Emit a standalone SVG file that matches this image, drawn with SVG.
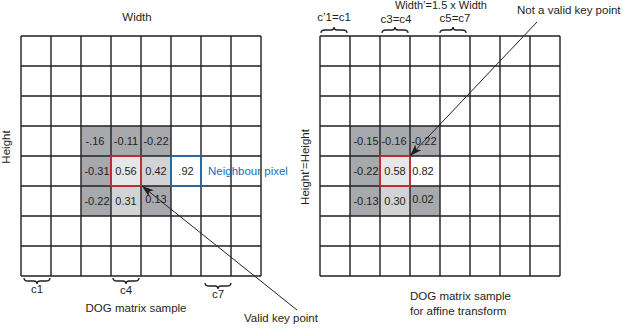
<svg xmlns="http://www.w3.org/2000/svg" width="626" height="328" viewBox="0 0 626 328">
<defs>
<style>
text{font-family:"Liberation Sans",Arial,sans-serif;fill:#231f20;font-size:11.5px}
.n{font-size:11px;text-anchor:middle}
.c{text-anchor:middle}
.grid{stroke:#231f20;stroke-width:1.4;fill:none}
.dk{fill:#a7a9ac}
.lt{fill:#d1d3d4}
.vl{fill:#e6e7e8}
.red{fill:none;stroke:#d7262b;stroke-width:1.6}
.blue{fill:none;stroke:#1c6cb5;stroke-width:1.6}
.brace{fill:none;stroke:#231f20;stroke-width:1.3}
.arr{stroke:#231f20;stroke-width:1;fill:none;marker-end:url(#ah)}
</style>
<marker id="ah" viewBox="0 0 12 8" refX="12" refY="4" markerWidth="12" markerHeight="8" markerUnits="userSpaceOnUse" orient="auto">
<path d="M0,0 L12,4 L0,8 L3,4 Z" fill="#231f20"/>
</marker>
</defs>
<rect width="626" height="328" fill="#ffffff"/>

<g id="left-matrix">
<rect class="dk" x="81" y="126" width="90" height="30"/>
<rect class="dk" x="81" y="156" width="30" height="60"/>
<rect class="vl" x="111" y="156" width="30" height="30"/>
<rect class="lt" x="141" y="156" width="30" height="30"/>
<rect class="lt" x="111" y="186" width="30" height="30"/>
<rect class="dk" x="141" y="186" width="30" height="30"/>
<path class="grid" d="M21,36V276M51,36V276M81,36V276M111,36V276M141,36V276M171,36V276M201,36V276M231,36V276M261,36V276M21,36H261M21,66H261M21,96H261M21,126H261M21,156H261M21,186H261M21,216H261M21,246H261M21,276H261"/>
<rect class="red" x="111" y="156" width="30" height="30"/>
<rect class="blue" x="171" y="156" width="30" height="30"/>
<text class="n" x="95" y="145">-.16</text>
<text class="n" x="126" y="145">-0.11</text>
<text class="n" x="156" y="145">-0.22</text>
<text class="n" x="97" y="175">-0.31</text>
<text class="n" x="126" y="175">0.56</text>
<text class="n" x="156" y="175">0.42</text>
<text class="n" x="186" y="175">.92</text>
<text class="n" x="97" y="205">-0.22</text>
<text class="n" x="126" y="205">0.31</text>
<text class="n" x="156" y="203">0.13</text>
</g>

<g id="left-labels">
<text class="c" x="137" y="21">Width</text>
<text class="c" transform="translate(10,147) rotate(-90)">Height</text>
<text x="208" y="175" style="fill:#1c6cb5">Neighbour pixel</text>
<path class="brace" d="M24,278 Q24,281 28,281 L34,281 Q37,281 37,284 Q37,281 40,281 L46,281 Q50,281 50,278"/>
<text class="c" x="37" y="293">c1</text>
<path class="brace" d="M113,278 Q113,281 117,281 L123,281 Q126,281 126,284 Q126,281 129,281 L135,281 Q139,281 139,278"/>
<text class="c" x="126" y="294">c4</text>
<path class="brace" d="M205,283 Q205,286 209,286 L215,286 Q218,286 218,289 Q218,286 221,286 L227,286 Q231,286 231,283"/>
<text class="c" x="218" y="298">c7</text>
<text class="c" x="136" y="312">DOG matrix sample</text>
</g>

<g id="right-matrix">
<rect class="dk" x="350" y="126" width="90" height="30"/>
<rect class="dk" x="350" y="156" width="30" height="60"/>
<rect class="vl" x="380" y="156" width="30" height="30"/>
<rect class="lt" x="380" y="186" width="30" height="30"/>
<rect class="dk" x="410" y="186" width="30" height="30"/>
<path class="grid" d="M320,36V276M350,36V276M380,36V276M410,36V276M440,36V276M470,36V276M500,36V276M530,36V276M560,36V276M320,36H560M320,66H560M320,96H560M320,126H560M320,156H560M320,186H560M320,216H560M320,246H560M320,276H560"/>
<rect class="red" x="380" y="156" width="30" height="30"/>
<text class="n" x="366" y="145">-0.15</text>
<text class="n" x="394" y="145">-0.16</text>
<text class="n" x="424" y="145">-0.22</text>
<text class="n" x="366" y="175">-0.22</text>
<text class="n" x="395" y="175">0.58</text>
<text class="n" x="423" y="175">0.82</text>
<text class="n" x="366" y="205">-0.13</text>
<text class="n" x="395" y="205">0.30</text>
<text class="n" x="423" y="203">0.02</text>
</g>

<g id="right-labels">
<text class="c" x="441" y="9" style="font-size:11px">Width’=1.5 x Width</text>
<path class="brace" d="M321,33 Q321,30 325,30 L331,30 Q334,30 334,27 Q334,30 337,30 L343,30 Q347,30 347,33"/>
<text class="c" x="334" y="21">c’1=c1</text>
<path class="brace" d="M382,33 Q382,30 386,30 L392,30 Q395,30 395,27 Q395,30 398,30 L404,30 Q408,30 408,33"/>
<text class="c" x="396" y="23">c3=c4</text>
<path class="brace" d="M440,33 Q440,30 444,30 L450,30 Q453,30 453,27 Q453,30 456,30 L462,30 Q466,30 466,33"/>
<text class="c" x="455" y="22">c5=c7</text>
<text class="c" transform="translate(309,167) rotate(-90)">Height’=Height</text>
<text x="410" y="300">DOG matrix sample</text>
<text x="410" y="315">for affine transform</text>
<text x="517" y="14">Not a valid key point</text>
<text x="244" y="322">Valid key point</text>
</g>

<g id="connectors">
<line class="arr" x1="297" y1="310" x2="142" y2="186"/>
<line class="arr" x1="537" y1="22" x2="410" y2="156"/>
</g>
</svg>
